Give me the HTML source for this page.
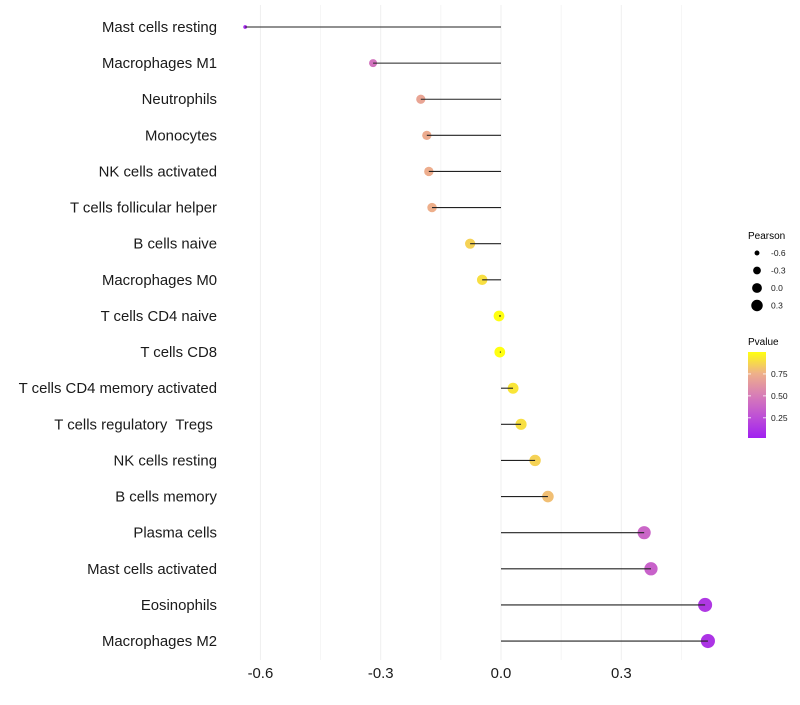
<!DOCTYPE html>
<html><head><meta charset="utf-8"><style>
body{margin:0;background:#fff;font-family:"Liberation Sans",sans-serif}
svg text{font-family:"Liberation Sans",sans-serif;white-space:pre}
</style></head><body>
<svg id="chart" width="800" height="700" xmlns="http://www.w3.org/2000/svg">
<defs><linearGradient id="pg" x1="0" y1="1" x2="0" y2="0">
<stop offset="0" stop-color="#A020F0"/><stop offset="0.25" stop-color="#BE50D6"/><stop offset="0.5" stop-color="#D87EB6"/><stop offset="0.75" stop-color="#EEB08A"/><stop offset="1" stop-color="#FFFF10"/></linearGradient></defs>
<g id="grid"></g>
<g id="marks"></g>
<g id="yaxis"></g>
<g id="xaxis"></g>
<g id="sleg">
<text x="748" y="239" font-size="10" fill="#000">Pearson</text>
</g>
<g>
<text x="748" y="345" font-size="10" fill="#000">Pvalue</text>
<rect x="748" y="352" width="18" height="86" fill="url(#pg)"/>
<g id="cleg"></g>
</g>
</svg>
<script>
const categories=["Mast cells resting","Macrophages M1","Neutrophils","Monocytes","NK cells activated","T cells follicular helper","B cells naive","Macrophages M0","T cells CD4 naive","T cells CD8","T cells CD4 memory activated","T cells regulatory  Tregs ","NK cells resting","B cells memory","Plasma cells","Mast cells activated","Eosinophils","Macrophages M2"];
const pearson=[-0.638,-0.319,-0.2,-0.185,-0.18,-0.172,-0.077,-0.047,-0.005,-0.003,0.03,0.05,0.085,0.117,0.357,0.374,0.509,0.516];
const pvalues=[0.05,0.45,0.7,0.73,0.74,0.75,0.86,0.9,1.0,1.0,0.92,0.9,0.86,0.8,0.38,0.36,0.14,0.12];
const xTicks=[-0.6,-0.3,0.0,0.3];
const xTickLabels=["-0.6","-0.3","0.0","0.3"];
const sizeLegend=[-0.6,-0.3,0.0,0.3];
const colorTicks=[0.25,0.5,0.75];
const NS="http://www.w3.org/2000/svg";
const X=v=>501+v*401;
const Y=i=>27+i*36.12;
const pMin=0.02,pMax=1.0;
const CY=p=>438-(p-pMin)/(pMax-pMin)*86;
const R=v=>Math.sqrt(Math.max(2.2,29+40*v));
const LR=v=>Math.sqrt(Math.max(4,24+30*v));
const stops=[[0,[160,32,240]],[0.25,[190,80,214]],[0.5,[216,126,182]],[0.75,[238,176,138]],[1,[255,255,16]]];
function col(p){let t=(p-pMin)/(pMax-pMin);t=Math.max(0,Math.min(1,t));
for(let k=1;k<stops.length;k++){if(t<=stops[k][0]){const a=stops[k-1],b=stops[k],f=(t-a[0])/(b[0]-a[0]);
return "rgb("+a[1].map((c,j)=>Math.round(c+(b[1][j]-c)*f)).join(",")+")";}}return "rgb(255,255,16)";}
function mk(tag,attrs,parent){const e=document.createElementNS(NS,tag);for(const k in attrs)e.setAttribute(k,attrs[k]);parent.appendChild(e);return e;}
const grid=document.getElementById('grid'),marks=document.getElementById('marks'),yax=document.getElementById('yaxis'),xax=document.getElementById('xaxis');
for(let k=-4;k<=3;k++){const v=k*0.15;const l=mk('line',{x1:X(v),x2:X(v),y1:5,y2:660,stroke:'#efefef','stroke-width':k%2===0?1:0.6},grid);

}
categories.forEach((c,i)=>{
const t=mk('text',{x:217,y:Y(i)+5,'text-anchor':'end','font-size':14.9,fill:'#1a1a1a'},yax);t.textContent=c;


const pt=mk('circle',{cx:X(pearson[i]),cy:Y(i),r:R(pearson[i]),fill:col(pvalues[i])},marks);


});
categories.forEach((c,i)=>{
const s=mk('line',{x1:X(0),x2:X(pearson[i]),y1:Y(i),y2:Y(i),stroke:'#222','stroke-width':1.1},marks);


});
xTicks.forEach((v,i)=>{const t=mk('text',{x:X(v),y:678,'text-anchor':'middle','font-size':14.9,fill:'#1a1a1a'},xax);t.textContent=xTickLabels[i];

});
const sleg=document.getElementById('sleg');
sizeLegend.forEach((v,i)=>{const cy=253+i*17.5;
const c=mk('circle',{cx:757,cy:cy,r:LR(v),fill:'#000'},sleg);


const t=mk('text',{x:771,y:cy+3,'font-size':8.5,fill:'#1a1a1a'},sleg);t.textContent=v.toFixed(1);

});
const cleg=document.getElementById('cleg');
colorTicks.forEach(p=>{const y=CY(p);
const l=mk('line',{x1:748,x2:751,y1:y,y2:y,stroke:'#fff','stroke-width':0.8},cleg);


const l2=mk('line',{x1:763,x2:766,y1:y,y2:y,stroke:'#fff','stroke-width':0.8},cleg);


const t=mk('text',{x:771,y:y+3,'font-size':8.5,fill:'#1a1a1a'},cleg);t.textContent=p.toFixed(2);

});
</script>
</body></html>
